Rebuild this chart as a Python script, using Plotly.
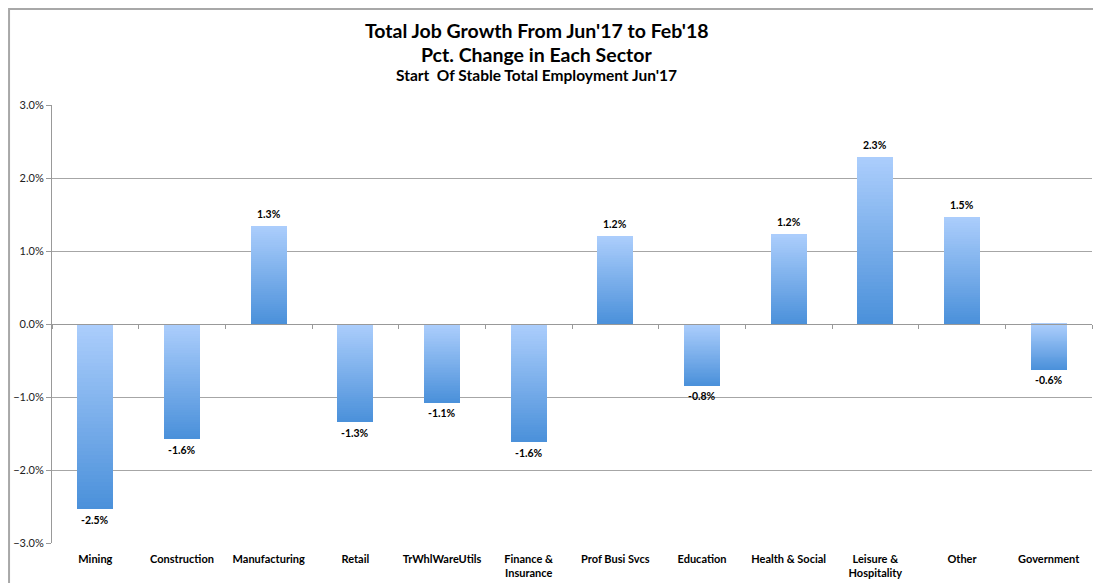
import plotly.graph_objects as go

categories = ["Mining", "Construction", "Manufacturing", "Retail", "TrWhlWareUtils",
              "Finance &<br>Insurance", "Prof Busi Svcs", "Education", "Health & Social",
              "Leisure &<br>Hospitality", "Other", "Government"]
values = [-2.54, -1.57, 1.34, -1.34, -1.07, -1.62, 1.21, -0.84, 1.23, 2.29, 1.47, -0.62]
labels = ["-2.5%", "-1.6%", "1.3%", "-1.3%", "-1.1%", "-1.6%", "1.2%", "-0.8%",
          "1.2%", "2.3%", "1.5%", "-0.6%"]
title_lines = ["Total Job Growth From Jun'17 to Feb'18", "Pct. Change in Each Sector",
               "Start  Of Stable Total Employment Jun'17"]

FONT = "Lato"
light = (172, 206, 252)
dark = (74, 144, 218)
N = 48

fig = go.Figure()
for i in range(N):
    t = (i + 0.5) / N
    c = tuple(round(dark[k] + (light[k] - dark[k]) * t) for k in range(3))
    bases, heights = [], []
    for v in values:
        lo, hi = min(0, v), max(0, v)
        h = (hi - lo) / N
        bases.append(lo + h * i)
        heights.append(h * 1.02)
    fig.add_trace(go.Bar(x=categories, y=heights, base=bases, width=0.415,
                         marker=dict(color="rgb(%d,%d,%d)" % c, line=dict(width=0)),
                         showlegend=False, hoverinfo="skip"))

# invisible trace to activate the zero-crossing category axis (ticks at boundaries)
fig.add_trace(go.Scatter(x=categories, y=[0] * len(categories), mode="lines",
                         line=dict(width=0), showlegend=False, hoverinfo="skip",
                         xaxis="x2"))

annotations = []
for cat, v, lab in zip(categories, values, labels):
    annotations.append(dict(x=cat, y=v, xref="x", yref="y", text="<b>%s</b>" % lab,
                            showarrow=False, xanchor="center",
                            yanchor="bottom" if v >= 0 else "top",
                            yshift=4 if v >= 0 else -3,
                            font=dict(family=FONT, size=10.5, color="black")))
for txt, y, size in zip(title_lines, [1.169, 1.116, 1.068], [19.5, 19.5, 15.5]):
    annotations.append(dict(text="<b>%s</b>" % txt, xref="paper", yref="paper",
                            x=0.466, y=y, xanchor="center", yanchor="middle",
                            showarrow=False, font=dict(family=FONT, size=size, color="black")))

n = len(categories)
fig.update_layout(
    width=1093, height=575,
    margin=dict(l=44, r=9, t=97, b=40, autoexpand=False),
    paper_bgcolor="white", plot_bgcolor="white",
    barmode="overlay", bargap=0,
    annotations=annotations,
    font=dict(family=FONT, color="black"),
    xaxis=dict(range=[-0.5, n - 0.5], showgrid=False, showline=False, ticks="",
               tickangle=0, automargin=False, ticklabelstandoff=8,
               tickfont=dict(family=FONT, size=11, color="black", weight="bold"),
               fixedrange=True),
    xaxis2=dict(matches="x", overlaying="x", anchor="free", position=0.5,
                showline=True, linecolor="#999999", linewidth=1,
                ticks="outside", tickson="boundaries", ticklen=4, tickcolor="#999999",
                showticklabels=False, showgrid=False, automargin=False),
    yaxis=dict(range=[-3, 3], dtick=1, tickformat=".1f", ticksuffix="%",
               showgrid=True, gridcolor="#a6a6a6", gridwidth=1,
               zeroline=False, automargin=False,
               showline=True, linecolor="#999999", linewidth=1,
               ticks="outside", ticklen=5, tickcolor="#999999",
               tickfont=dict(family=FONT, size=11, color="#222222")),
    shapes=[dict(type="rect", xref="paper", yref="paper", x0=-0.0413, x1=1.03,
                 y0=-0.12, y1=1.219, line=dict(color="#a8a8a8", width=2), layer="above")],
)

fig.write_html("out.html")
